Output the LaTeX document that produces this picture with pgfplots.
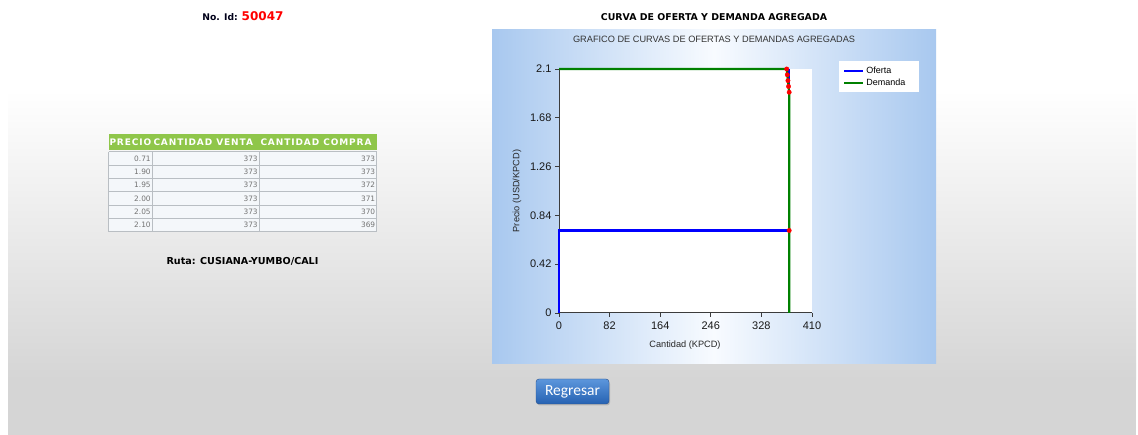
\documentclass[border=0pt]{standalone}
\usepackage{pgfplots}
\pgfplotsset{compat=1.18}
\usepackage{fontspec}
\setmainfont{Liberation Sans}
\newfontfamily\verd{DejaVu Sans}
\newfontfamily\verdsp[LetterSpace=10]{DejaVu Sans}
\newfontfamily\carl{Carlito}
\definecolor{pagegray}{RGB}{213,213,213}
\definecolor{panelblue}{RGB}{168,200,239}
\definecolor{panelwhite}{RGB}{248,251,255}
\definecolor{hdrgreen}{RGB}{143,198,74}
\definecolor{rowfill}{RGB}{244,247,250}
\definecolor{tblborder}{RGB}{185,190,195}
\definecolor{tblgray}{RGB}{115,115,115}
\definecolor{axisgray}{RGB}{60,60,60}
\definecolor{demgreen}{RGB}{0,128,0}
\definecolor{btntop}{RGB}{92,150,220}
\definecolor{btnbot}{RGB}{38,98,178}
\definecolor{btnborder}{RGB}{40,80,140}
\begin{document}
\begin{tikzpicture}
% page background
\fill[white] (0pt,0pt) rectangle (1138pt,435pt);
\shade[top color=white,bottom color=pagegray] (8pt,55pt) rectangle (1136pt,345pt);
\fill[pagegray] (8pt,0pt) rectangle (1136pt,55.5pt);
% chart panel
\shade[left color=panelblue,right color=panelblue,middle color=panelwhite] (492pt,71pt) rectangle (936pt,405pt);
% header texts
\node[anchor=base east,inner sep=0pt,font=\verd\bfseries\fontsize{9.2}{11}\selectfont,text=black!90!blue] at (238pt,414.5pt) {No. Id:};
\node[anchor=base west,inner sep=0pt,font=\verd\bfseries\fontsize{12}{14}\selectfont,text=red] at (241.5pt,414.5pt) {50047};
\node[anchor=base,inner sep=0pt,font=\verd\bfseries\fontsize{9.4}{11}\selectfont,text=black] at (714pt,414.5pt) {CURVA DE OFERTA Y DEMANDA AGREGADA};
% table
\fill[hdrgreen] (108.5pt,285pt) rectangle (376.5pt,300.7pt);
\fill[rowfill] (108.5pt,203.3pt) rectangle (376.5pt,283.3pt);
\foreach \yy in {283.3,270,256.7,243.3,230,216.7,203.3} {
  \draw[tblborder,line width=0.8pt] (108.5pt,\yy pt) -- (376.5pt,\yy pt);
}
\foreach \xx in {108.5,152.3,259.3,376.5} {
  \draw[tblborder,line width=0.8pt] (\xx pt,203.3pt) -- (\xx pt,283.3pt);
}
\node[anchor=west,inner sep=0pt,font=\verdsp\bfseries\fontsize{9}{10}\selectfont,text=white] at (109.3pt,292.8pt) {PRECIO};
\node[anchor=west,inner sep=0pt,font=\verdsp\bfseries\fontsize{9}{10}\selectfont,text=white] at (153.3pt,292.8pt) {CANTIDAD VENTA};
\node[anchor=west,inner sep=0pt,font=\verdsp\bfseries\fontsize{9}{10}\selectfont,text=white] at (260.3pt,292.8pt) {CANTIDAD COMPRA};
\foreach \p/\v/\c [count=\i from 0] in {0.71/373/373,1.90/373/373,1.95/373/372,2.00/373/371,2.05/373/370,2.10/373/369} {
  \node[anchor=east,inner sep=0pt,font=\verd\fontsize{7.4}{9}\selectfont,text=tblgray] at (150.9pt,{276.6pt-\i*13.33pt}) {\p};
  \node[anchor=east,inner sep=0pt,font=\verd\fontsize{7.4}{9}\selectfont,text=tblgray] at (257.9pt,{276.6pt-\i*13.33pt}) {\v};
  \node[anchor=east,inner sep=0pt,font=\verd\fontsize{7.4}{9}\selectfont,text=tblgray] at (375.4pt,{276.6pt-\i*13.33pt}) {\c};
}
\node[inner sep=0pt,font=\verd\bfseries\fontsize{9.6}{11}\selectfont,text=black] at (242.5pt,174pt) {Ruta: CUSIANA-YUMBO/CALI};
% button
\fill[black,opacity=0.15,rounded corners=3pt] (537pt,29.5pt) rectangle (610pt,54pt);
\shade[top color=btntop,bottom color=btnbot,rounded corners=3pt,draw=btnborder] (536pt,31pt) rectangle (609pt,56pt);
\node[inner sep=0pt,font=\carl\fontsize{15.5}{17}\selectfont,text=white] at (572.5pt,43.5pt) {Regresar};
% chart
\begin{axis}[
  at={(559pt,122pt)}, anchor=south west,
  scale only axis, width=253pt, height=244pt,
  xmin=0, xmax=410, ymin=0, ymax=2.1,
  xtick={0,82,164,246,328,410},
  xticklabels={0,82,164,246,328,410},
  ytick={0,0.42,0.84,1.26,1.68,2.1},
  yticklabels={0,0.42,0.84,1.26,1.68,2.1},
  axis lines*=left,
  axis line style={-,draw=axisgray,line width=1pt},
  tick align=outside, major tick length=4pt,
  tick style={axisgray,line width=0.9pt},
  tick label style={font=\fontsize{11}{13}\selectfont,text=black!90},
  xticklabel style={yshift=-1pt},
  axis background/.style={fill=white},
  clip=false,
  title={GRAFICO DE CURVAS DE OFERTAS Y DEMANDAS AGREGADAS},
  title style={at={(axis description cs:0.613,1.098)},anchor=center,font=\fontsize{9.2}{11}\selectfont,text=black!80},
  xlabel={Cantidad (KPCD)},
  ylabel={Precio (USD/KPCD)},
  xlabel style={at={(axis description cs:0.498,-0.131)},anchor=center,font=\fontsize{9.2}{11}\selectfont,text=black!85},
  ylabel style={at={(axis description cs:-0.166,0.5)},anchor=center,font=\fontsize{9.2}{11}\selectfont,text=black!85},
  legend style={at={(axis description cs:1.107,1.033)},anchor=north west,draw=none,fill=white,
    font=\fontsize{9}{10}\selectfont,inner xsep=4pt,inner ysep=3.5pt,row sep=0pt},
  legend cell align=left,
  legend image code/.code={\draw[line width=2.2pt,#1] (0pt,0pt) -- (19pt,0pt);},
]
\addplot[blue,line width=2.2pt] coordinates {(0,0) (0,0.71) (373,0.71) (373,2.1)};
\addlegendentry{Oferta}
\addplot[demgreen,line width=2.2pt] coordinates {(0,2.1) (369,2.1) (370,2.05) (371,2.0) (372,1.95) (373,1.9) (373,0.71) (373,0)};
\addlegendentry{\makebox[47pt][l]{Demanda}}
\addplot[only marks,mark=*,mark size=2.2pt,red,forget plot] coordinates {(369,2.1) (370,2.05) (371,2.0) (372,1.95) (373,1.9) (373,0.71)};
\end{axis}
\pgfresetboundingbox
\path[use as bounding box] (0pt,0pt) rectangle (1138pt,435pt);
\end{tikzpicture}
\end{document}
